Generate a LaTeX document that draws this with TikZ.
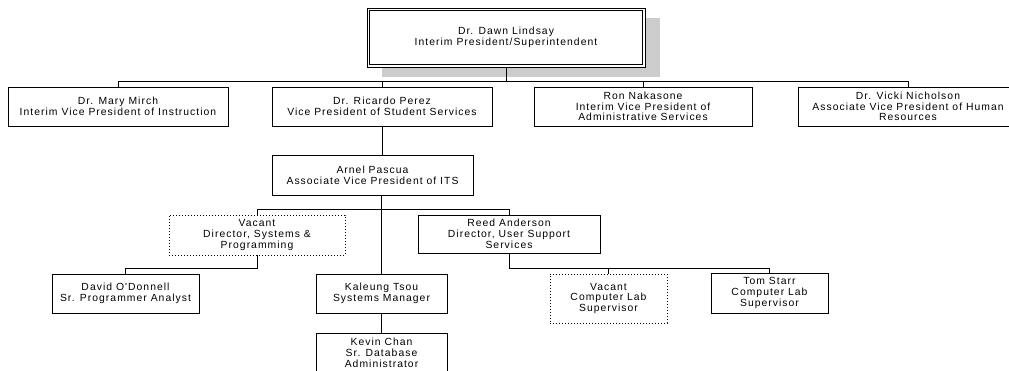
\documentclass[tikz,border=0pt]{standalone}
\usepackage{fontspec}
\setmainfont{Liberation Sans}
\newfontfamily\orgfont[LetterSpace=10]{Liberation Sans}
\usepackage{tikz}
\usetikzlibrary{shadows, positioning}

\tikzset{
  box/.style={draw, line width=0.9bp, align=center, inner sep=1bp,
    font=\orgfont\fontsize{10.4}{10.8}\selectfont},
  vacantbox/.style={box, dash pattern=on 1bp off 2bp},
  topbox/.style={box, fill=white, line width=0.8bp,
    drop shadow={shadow xshift=15bp, shadow yshift=-10bp, fill=black!20, draw=none, opacity=1}}
}

\begin{document}
\begin{tikzpicture}[x=1bp, y=-1bp, line width=0.9bp]
\useasboundingbox (0,0) rectangle (1009,370);

% President
\node[topbox, minimum width=278bp, minimum height=59bp] (pres) at (506,37.5)
  {Dr. Dawn Lindsay\\Interim President/Superintendent};
\draw[line width=0.8bp] ([shift={(2.6,2.6)}]pres.north west) rectangle ([shift={(-2.6,-2.6)}]pres.south east); % inner frame

% Vice presidents
\node[box, minimum width=220bp, minimum height=39bp] (mirch) at (118,106.5)
  {Dr. Mary Mirch\\Interim Vice President of Instruction};
\node[box, minimum width=220bp, minimum height=39bp] (perez) at (382,106.5)
  {Dr. Ricardo Perez\\Vice President of Student Services};
\node[box, minimum width=218bp, minimum height=39bp] (nakasone) at (643,106.5)
  {Ron Nakasone\\Interim Vice President of\\Administrative Services};
\node[box, minimum width=220bp, minimum height=39bp] (nicholson) at (908,106.5)
  {Dr. Vicki Nicholson\\Associate Vice President of Human\\Resources};

% ITS
\node[box, minimum width=201bp, minimum height=40bp] (pascua) at (372.5,175)
  {Arnel Pascua\\Associate Vice President of ITS};
\node[vacantbox, minimum width=176bp, minimum height=40bp] (vacdir) at (257,235)
  {Vacant\\Director, Systems \&\\Programming};
\node[box, minimum width=182bp, minimum height=38bp] (reed) at (509,234)
  {Reed Anderson\\Director, User Support\\Services};

% Staff
\node[box, minimum width=147bp, minimum height=39bp] (david) at (125.5,293.5)
  {David O'Donnell\\Sr. Programmer Analyst};
\node[box, minimum width=131bp, minimum height=39bp] (tsou) at (381.5,293.5)
  {Kaleung Tsou\\Systems Manager};
\node[box, minimum width=131bp, minimum height=40bp] (chan) at (381.5,353)
  {Kevin Chan\\Sr. Database\\Administrator};
\node[vacantbox, minimum width=117bp, minimum height=49bp] (vaclab) at (608.5,298.5)
  {Vacant\\Computer Lab\\Supervisor};
\node[box, minimum width=117bp, minimum height=40bp] (tom) at (769.5,293)
  {Tom Starr\\Computer Lab\\Supervisor};

% Connectors
\draw (pres.south) -- ++(0,15);
\draw (mirch.north) -- ++(0,-5) -| (nicholson.north);
\draw (perez.north) -- ++(0,-5);
\draw (nakasone.north) -- ++(0,-5);
\draw (perez.south) -- (perez.south |- pascua.north);
\draw (pascua.south -| tsou.north) -- (tsou.north);
\draw (vacdir.north) -- ++(0,-5) -| (reed.north);
\draw (vacdir.south) -- ++(0,13) -| (david.north);
\draw (tsou.south) -- (chan.north);
\draw (reed.south) -- ++(0,15) -| (tom.north);
\draw (vaclab.north) -- ++(0,-6);

\end{tikzpicture}
\end{document}
